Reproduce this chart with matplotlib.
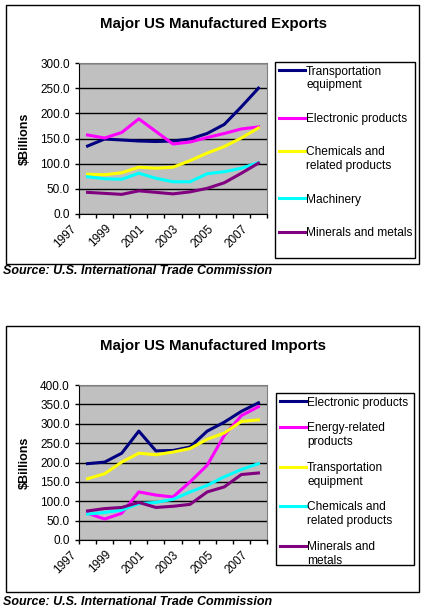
import matplotlib.pyplot as plt
from matplotlib.patches import Rectangle
import numpy as np

plt.rcParams['font.family'] = ['Liberation Sans', 'DejaVu Sans']

W, H = 425, 612

years = list(range(1997, 2008))

# exports, $ billions
exp_names = ["Transportation\nequipment", "Electronic products",
             "Chemicals and\nrelated products", "Machinery",
             "Minerals and metals"]
exp_transport = [135, 149, 147, 145, 144, 145, 149, 160, 178, 213, 250]
exp_electronic = [157, 151, 162, 189, 164, 139, 143, 152, 160, 169, 173]
exp_chemicals = [79, 78, 82, 93, 91, 93, 106, 121, 134, 151, 171]
exp_machinery = [74, 70, 69, 81, 71, 64, 64, 80, 84, 91, 102]
exp_minerals = [43, 41, 39, 46, 43, 40, 44, 51, 62, 81, 101]

# imports, $ billions
imp_names = ["Electronic products", "Energy-related\nproducts",
             "Transportation\nequipment", "Chemicals and\nrelated products",
             "Minerals and\nmetals"]
imp_electronic = [197, 201, 224, 281, 230, 231, 240, 281, 304, 332, 354]
imp_energy = [69, 54, 69, 124, 116, 111, 150, 193, 270, 321, 344]
imp_transport = [158, 171, 201, 224, 220, 227, 236, 260, 276, 306, 310]
imp_chemicals = [67, 71, 77, 94, 97, 105, 124, 141, 163, 182, 197]
imp_minerals = [75, 81, 84, 97, 84, 87, 92, 124, 137, 169, 173]

colors = ["#000080", "#FF00FF", "#FFFF00", "#00FFFF", "#800080"]


def px_box(x0, y0, x1, y1):
    # pixel box (top-left origin) -> figure fraction rect
    return [x0 / W, (H - y1) / H, (x1 - x0) / W, (y1 - y0) / H]


def frame(fig, box):
    r = px_box(*box)
    fig.add_artist(Rectangle((r[0], r[1]), r[2], r[3],
                             transform=fig.transFigure, fill=False,
                             edgecolor="black", linewidth=1))


def draw_panel(fig, ax_box, frame_box, leg_box, title, title_y,
               series, names, ymax, source_y, spacing):
    frame(fig, frame_box)
    fig.text(213 / W, 1 - title_y / H, title, ha="center", va="center",
             fontsize=10.8, fontweight="bold")

    ax = fig.add_axes(px_box(*ax_box))
    ax.set_facecolor("#C0C0C0")
    x = np.arange(len(years))
    handles = []
    for vals, c in zip(series, colors):
        ln, = ax.plot(x, vals, color=c, linewidth=2.2, zorder=3)
        handles.append(ln)

    ax.set_xlim(-0.5, len(years) - 0.5)
    ax.set_ylim(0, ymax)
    ax.set_yticks(np.arange(0, ymax + 1, 50))
    ax.set_yticklabels([f"{v:.1f}" for v in np.arange(0, ymax + 1, 50)])
    ax.yaxis.grid(True, color="black", linewidth=1)
    ax.set_axisbelow(True)

    # ticks sit between categories, every other one carries a year
    bounds = np.arange(len(years) + 1) - 0.5
    labels = [str(years[i]) if i < len(years) and i % 2 == 0 else ""
              for i in range(len(bounds))]
    ax.set_xticks(bounds)
    ax.set_xticklabels(labels, rotation=45, ha="right", va="top")
    ax.tick_params(axis="both", direction="out", length=3.2, width=1,
                   labelsize=8.5, color="black")
    ax.tick_params(axis="x", pad=3)

    for s in ("top", "right"):
        ax.spines[s].set_color("#808080")
    for s in ("left", "bottom"):
        ax.spines[s].set_color("black")

    ax.set_ylabel("\\$Billions", fontsize=9, fontweight="bold")
    ax.yaxis.set_label_coords(-0.255, 0.5)

    # legend: fixed frame, entries laid out inside it
    frame(fig, leg_box)
    lb = px_box(*leg_box)
    leg = fig.legend(handles, names, loc="upper left",
                     bbox_to_anchor=(lb[0], lb[1] + lb[3]),
                     bbox_transform=fig.transFigure,
                     fontsize=8.6, frameon=False, handlelength=2.2,
                     handleheight=1.0, handletextpad=0.1,
                     labelspacing=spacing, borderaxespad=0, borderpad=0.3)
    for col in leg._legend_handle_box.get_children():
        for hp in col.get_children():
            hp.align = "top"

    fig.text(3 / W, 1 - source_y / H, "Source: U.S. International Trade Commission",
             ha="left", va="center", fontsize=9, fontweight="bold",
             fontstyle="italic")
    return ax


fig = plt.figure(figsize=(W / 100, H / 100), dpi=100)

draw_panel(fig, (79, 63, 267, 214), (6, 5, 419, 264), (275, 62, 415, 258),
           "Major US Manufactured Exports", 24,
           [exp_transport, exp_electronic, exp_chemicals, exp_machinery,
            exp_minerals], exp_names, 300, 271, 1.8)

draw_panel(fig, (79, 385, 267, 540), (6, 326, 419, 592), (276, 393, 414, 565),
           "Major US Manufactured Imports", 346,
           [imp_electronic, imp_energy, imp_transport, imp_chemicals,
            imp_minerals], imp_names, 400, 602, 1.15)

fig.savefig("out.png", dpi=100)
